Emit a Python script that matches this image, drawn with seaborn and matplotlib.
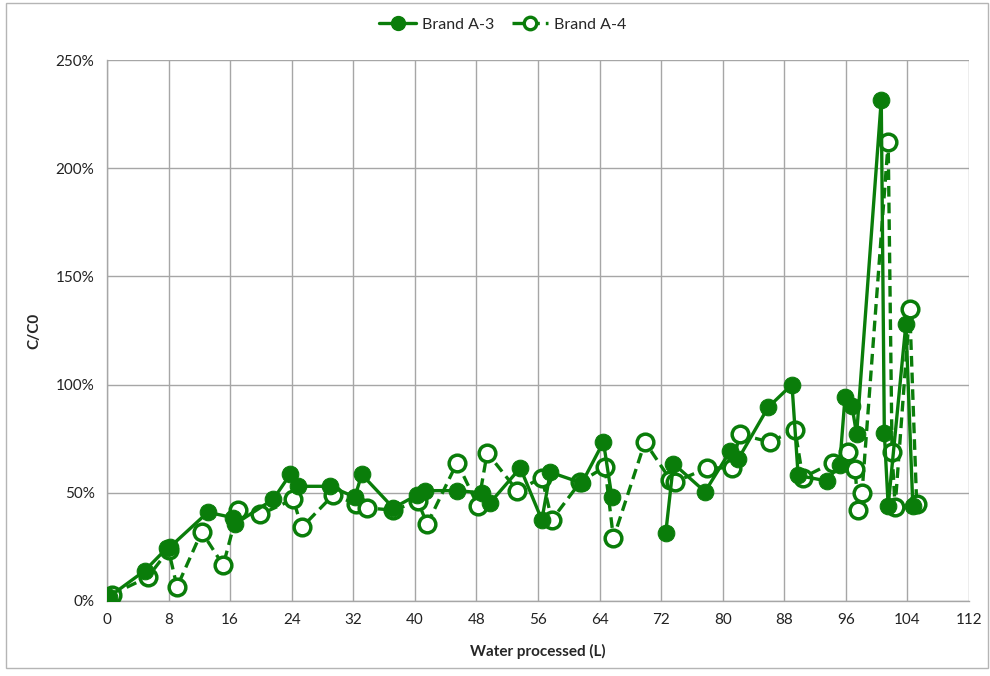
import numpy as np
import pandas as pd
import matplotlib
matplotlib.use("Agg")
import matplotlib.pyplot as plt
from matplotlib.ticker import PercentFormatter
from matplotlib.lines import Line2D
from matplotlib.patches import Rectangle
import seaborn as sns

# ---- data ----
a3_x = [0.3, 4.9, 7.8, 8.2, 13.1, 16.4, 16.6, 21.6, 23.8, 24.8, 29.0, 32.2, 33.1, 37.2,
        40.3, 41.3, 45.5, 48.7, 49.8, 53.7, 56.5, 57.6, 61.7, 64.5, 65.6,
        72.6, 73.6, 77.7, 81.0, 82.0, 85.9, 89.0, 89.8, 93.5, 95.2, 95.9, 96.8, 97.4,
        100.6, 101.0, 101.5, 103.8, 104.7]
a3_y = [2, 14, 24.5, 25, 41, 38.5, 35.5, 47, 58.5, 53, 53, 48, 58.5, 43,
        49, 51, 51, 50, 45.5, 61.5, 37.5, 59.5, 54.5, 73.5, 48,
        31.5, 63.5, 50.5, 69.5, 65.5, 89.5, 100, 58, 55.5, 63, 94.5, 90, 77,
        231.5, 77.5, 44, 128, 44]
a3_seg = [0] * 25 + [1] * 18

a4_x = [0.6, 5.3, 8.0, 9.1, 12.3, 15.1, 17.0, 19.9, 24.2, 25.3, 29.4, 32.3, 33.8, 37.2,
        40.4, 41.6, 45.5, 48.2, 49.4, 53.3, 56.5, 57.8, 61.5, 64.7, 65.8, 69.9,
        73.2, 73.8, 78.0, 81.2, 82.2, 86.1, 89.4, 90.4, 94.3, 96.3, 97.2, 97.6, 98.1,
        101.5, 102.0, 102.4, 104.3, 105.2]
a4_y = [3, 11, 23.5, 6.5, 32, 16.5, 42, 40, 47, 34, 49, 45, 43, 42,
        46, 35.5, 64, 44, 68.5, 51, 57, 37.5, 55, 62, 29, 73.5,
        56, 55, 61.5, 61.5, 77, 73.5, 79, 57, 64, 69, 61, 42, 50,
        212, 69, 43.5, 135, 45]

x_ticks = list(range(0, 113, 8))
y_ticks = [0, 50, 100, 150, 200, 250]

GREEN = "#0a7d0a"

df3 = pd.DataFrame({"x": a3_x, "y": a3_y, "seg": a3_seg})
df4 = pd.DataFrame({"x": a4_x, "y": a4_y})

sns.set_theme(style="white")
plt.rcParams["font.family"] = ["Lato", "DejaVu Sans"]

fig = plt.figure(figsize=(9.9, 6.76), dpi=100)
ax = fig.add_axes([107 / 990, 1 - 601 / 676, 862 / 990, 541 / 676])

DASH = (0, (3.2, 1.8))
# dashed series first so filled series sits on top
sns.lineplot(data=df4, x="x", y="y", sort=False, estimator=None, ax=ax,
             color=GREEN, linewidth=2.4, linestyle=DASH,
             marker="o", markersize=12, markerfacecolor="white",
             markeredgecolor=GREEN, markeredgewidth=2.5, zorder=3)
for s, g in df3.groupby("seg"):
    sns.lineplot(data=g, x="x", y="y", sort=False, estimator=None, ax=ax,
                 color=GREEN, linewidth=2.4, marker="o", markersize=12,
                 markerfacecolor=GREEN, markeredgecolor=GREEN, zorder=4)

ax.set_xlim(0, 112)
ax.set_ylim(0, 250)
ax.set_xticks(x_ticks)
ax.set_yticks(y_ticks)
ax.yaxis.set_major_formatter(PercentFormatter(100, decimals=0))
ax.grid(True, color="#a6a6a6", linewidth=1.0)
ax.set_axisbelow(True)
for side in ["top", "right"]:
    ax.spines[side].set_visible(False)
for side in ["left", "bottom"]:
    ax.spines[side].set_color("#a6a6a6")
    ax.spines[side].set_linewidth(1.0)
ax.tick_params(axis="both", which="major", direction="out", length=5, width=1,
               color="#a6a6a6", labelsize=11, labelcolor="#222222", pad=4)
ax.set_xlabel("Water processed (L)", fontsize=11, fontweight="bold", labelpad=12)
ax.set_ylabel("C/C0", fontsize=11, fontweight="bold", labelpad=10)

handles = [
    Line2D([], [], color=GREEN, linewidth=2.4, marker="o", markersize=10,
           markerfacecolor=GREEN, markeredgecolor=GREEN),
    Line2D([], [], color=GREEN, linewidth=2.4, linestyle=DASH, marker="o",
           markersize=9, markerfacecolor="white", markeredgecolor=GREEN, markeredgewidth=2.4),
]
fig.legend(handles, ["Brand A-3", "Brand A-4"], loc="center", ncol=2,
           bbox_to_anchor=(0.508, 1 - 25 / 676), frameon=False, fontsize=11.5,
           handlelength=2.3, columnspacing=1.1, handletextpad=0.35)

fig.patches.append(Rectangle((6 / 990, 1 - 668 / 676), 982 / 990, 665 / 676,
                             transform=fig.transFigure, fill=False,
                             edgecolor="#b5b5b5", linewidth=1.0))

fig.savefig("out.png", dpi=100)
